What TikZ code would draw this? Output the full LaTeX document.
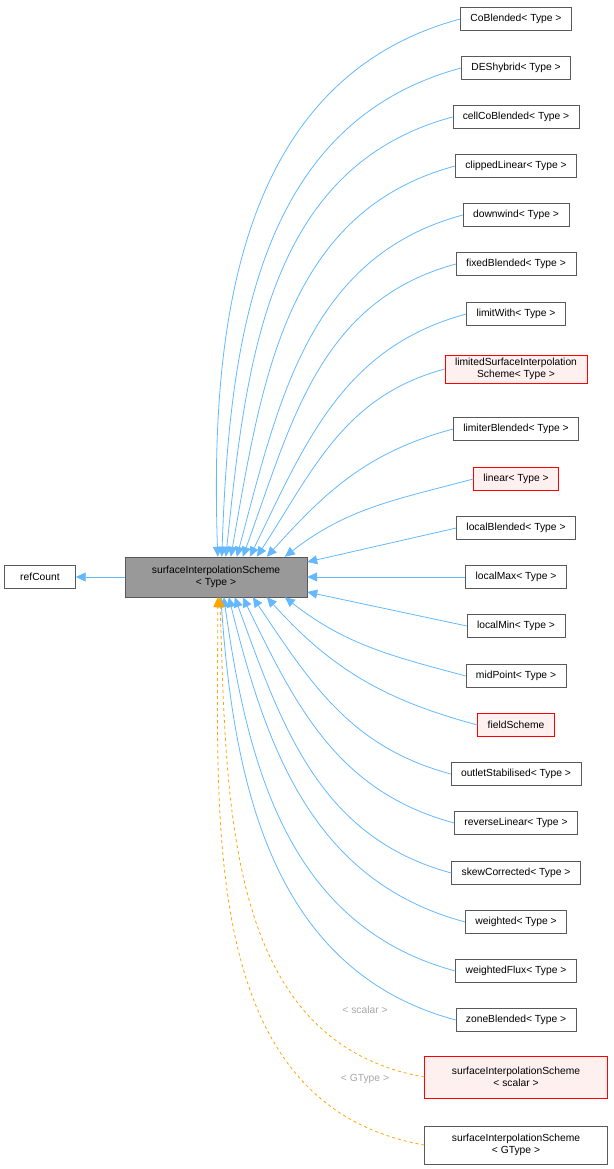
\documentclass[tikz,border=0pt]{standalone}
\usepackage{fontspec}
\setmainfont{Liberation Sans}
\usetikzlibrary{calc,arrows.meta}

\definecolor{edgeblue}{RGB}{99,184,255}
\definecolor{tmplorange}{RGB}{255,165,0}
\definecolor{redfill}{RGB}{255,240,240}

\tikzset{
    cls/.style={draw=black!65,fill=white,inner xsep=10pt,inner ysep=3pt,minimum height=23pt,align=center,font=\fontsize{10.3}{12}\selectfont},
    undoc/.style={cls,draw=red,fill=redfill},
    base/.style={cls,fill=black!40},
    inh/.style={draw=edgeblue,-{Triangle[width=9pt,length=10pt]},line width=0.8pt},
    tmpl/.style={draw=tmplorange,dashed,-{Triangle[width=9pt,length=10pt]},line width=0.8pt},
    tlabel/.style={text=black!35,font=\fontsize{10.3}{12}\selectfont}
}

\begin{document}
\begin{tikzpicture}[x=1pt,y=-1pt]
        \useasboundingbox (0,0) rectangle (613,1169);

        \node[cls,minimum width=71pt] (refcount) at (40,577) {refCount};
        \node[base,minimum width=182pt,minimum height=40pt] (sis) at (216,577) {surfaceInterpolationScheme\\< Type >};
        \draw[inh] (sis) -- (refcount);

        % children above
        \foreach \nm/\y/\txt/\st/\dx/\ang [count=\i] in {
            coblended/19/CoBlended< Type >/cls/93/92,
            deshybrid/68/DEShybrid< Type >/cls/97/88,
            cellcoblended/117/cellCoBlended< Type >/cls/101/84,
            clippedlinear/166/clippedLinear< Type >/cls/106/80,
            downwind/215/downwind< Type >/cls/112/75,
            fixedblended/264/fixedBlended< Type >/cls/118/70,
            limitwith/314/limitWith< Type >/cls/125/64,
            limitedsis/369/limitedSurfaceInterpolation\\Scheme< Type >/undoc/132/57,
            limiterblended/429/limiterBlended< Type >/cls/142/48,
            linear/479/linear< Type >/undoc/160/38}{
            \node[\st] (\nm) at (516,\y) {\txt};
            \coordinate (e\nm) at ($(sis.north west)+(\dx,0)$);
            \draw[inh] (\nm.west) to[out=195,in=\ang] (e\nm);
        }

        % children at the side
        \foreach \nm/\y/\txt/\dy in {
            localblended/528/localBlended< Type >/-15,
            localmax/577/localMax< Type >/0,
            localmin/626/localMin< Type >/15}{
            \node[cls] (\nm) at (516,\y) {\txt};
            \coordinate (e\nm) at ($(sis.east)+(0,\dy)$);
            \draw[inh] (\nm.west) -- (e\nm);
        }

        % children below
        \foreach \nm/\y/\txt/\st/\dx/\ang in {
            midpoint/676/midPoint< Type >/cls/160/322,
            fieldscheme/725/fieldScheme/undoc/142/312,
            outletstab/774/outletStabilised< Type >/cls/128/304,
            reverselinear/823/reverseLinear< Type >/cls/118/296,
            skewcorrected/873/skewCorrected< Type >/cls/110/290,
            weighted/922/weighted< Type >/cls/104/284,
            weightedflux/971/weightedFlux< Type >/cls/99/278,
            zoneblended/1020/zoneBlended< Type >/cls/96/274}{
            \node[\st] (\nm) at (516,\y) {\txt};
            \coordinate (e\nm) at ($(sis.south west)+(\dx,0)$);
            \draw[inh] (\nm.west) to[out=165,in=\ang] (e\nm);
        }

        % template instances
        \node[undoc,minimum width=183pt,minimum height=42pt] (sisscalar) at (516,1077) {surfaceInterpolationScheme\\< scalar >};
        \node[cls,minimum width=183pt,minimum height=38pt] (sisgtype) at (516,1145) {surfaceInterpolationScheme\\< GType >};
        \coordinate (escalar) at ($(sis.south west)+(95,0)$);
        \coordinate (egtype) at ($(sis.south west)+(93,0)$);
        \draw[tmpl] (sisscalar.west) to[out=170,in=272] (escalar);
        \draw[tmpl] (sisgtype.west) to[out=170,in=270] (egtype);
        \node[tlabel] (lscalar) at (365,1010) {< scalar >};
        \node[tlabel] (lgtype) at (365,1079) {< GType >};
    \end{tikzpicture}
\end{document}
